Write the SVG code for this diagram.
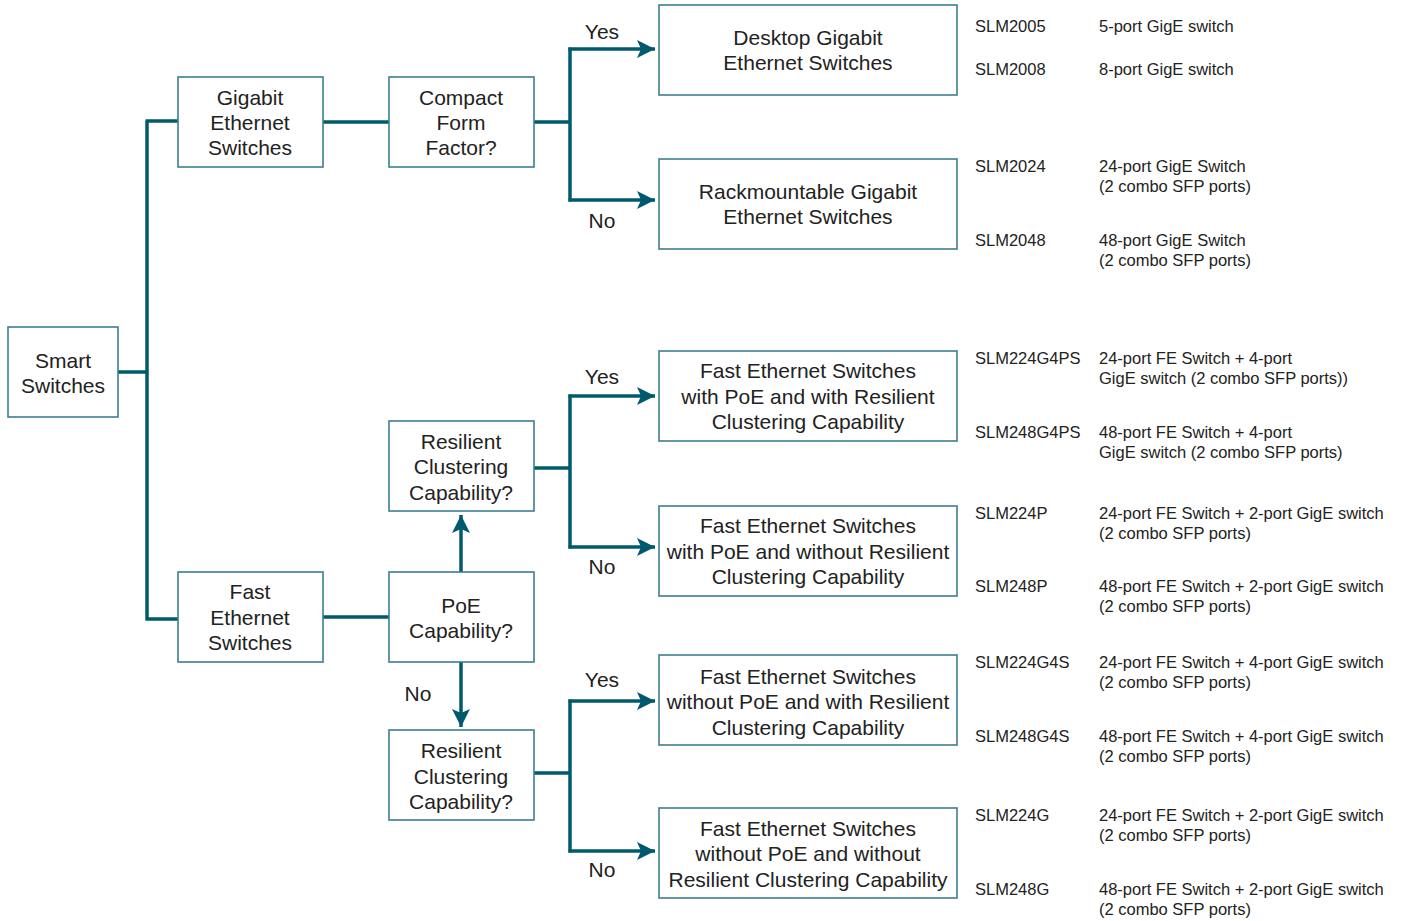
<svg xmlns="http://www.w3.org/2000/svg" width="1404" height="921" viewBox="0 0 1404 921">
<defs>
<style>
.box{fill:#fff;stroke:#3b7f8f;stroke-width:1.6}
.t{font-family:"Liberation Sans",Arial,sans-serif;font-size:21px;fill:#222;text-anchor:middle}
.s{font-family:"Liberation Sans",Arial,sans-serif;font-size:16.5px;fill:#222}
.c{fill:none;stroke:#005a6e;stroke-width:3.5}
.a{fill:none;stroke:#005a6e;stroke-width:3.5;marker-end:url(#ah)}
</style>
<marker id="ah" markerUnits="userSpaceOnUse" markerWidth="20" markerHeight="18" refX="18" refY="9" orient="auto">
<path d="M0,0 L18,9 L0,18 L4,9 Z" fill="#005a6e"/>
</marker>
</defs>
<rect width="1404" height="921" fill="#fff"/>
<g id="connectors">
<path class="c" d="M118,372 H147 M147,121 V620 M145.5,121 H178 M145.5,619 H178"/>
<path class="c" d="M323,122 H389 M534,122 H570 M570,47.5 V201.5"/>
<path class="a" d="M568.5,49 H655"/>
<path class="a" d="M568.5,200 H655"/>
<path class="c" d="M323,617 H389"/>
<path class="a" d="M461,572 V515"/>
<path class="a" d="M461,662 V727"/>
<path class="c" d="M534,468 H570 M570,394.5 V548.5"/>
<path class="a" d="M568.5,396 H655"/>
<path class="a" d="M568.5,547 H655"/>
<path class="c" d="M534,773 H570 M570,699.5 V852.5"/>
<path class="a" d="M568.5,701 H655"/>
<path class="a" d="M568.5,851 H655"/>
<g class="t">
<text x="602" y="39">Yes</text>
<text x="602" y="228">No</text>
<text x="602" y="384">Yes</text>
<text x="602" y="574">No</text>
<text x="602" y="687">Yes</text>
<text x="602" y="877">No</text>
<text x="418" y="701">No</text>
</g>
</g>
<g id="smart"><rect class="box" x="8" y="327" width="110" height="90"/><text class="t" x="63" y="368">Smart</text><text class="t" x="63" y="393">Switches</text></g>
<g id="gige"><rect class="box" x="178" y="77" width="145" height="90"/><text class="t" x="250" y="105">Gigabit</text><text class="t" x="250" y="130">Ethernet</text><text class="t" x="250" y="155">Switches</text></g>
<g id="compact"><rect class="box" x="389" y="77" width="145" height="90"/><text class="t" x="461" y="105">Compact</text><text class="t" x="461" y="130">Form</text><text class="t" x="461" y="155">Factor?</text></g>
<g id="desktop"><rect class="box" x="659" y="5" width="298" height="90"/><text class="t" x="808" y="45">Desktop Gigabit</text><text class="t" x="808" y="70">Ethernet Switches</text></g>
<g id="rack"><rect class="box" x="659" y="159" width="298" height="90"/><text class="t" x="808" y="199">Rackmountable Gigabit</text><text class="t" x="808" y="224">Ethernet Switches</text></g>
<g id="fe"><rect class="box" x="178" y="572" width="145" height="90"/><text class="t" x="250" y="599">Fast</text><text class="t" x="250" y="625">Ethernet</text><text class="t" x="250" y="650">Switches</text></g>
<g id="poe"><rect class="box" x="389" y="572" width="145" height="90"/><text class="t" x="461" y="613">PoE</text><text class="t" x="461" y="638">Capability?</text></g>
<g id="res1"><rect class="box" x="389" y="421" width="145" height="90"/><text class="t" x="461" y="449">Resilient</text><text class="t" x="461" y="474">Clustering</text><text class="t" x="461" y="500">Capability?</text></g>
<g id="res2"><rect class="box" x="389" y="730" width="145" height="90"/><text class="t" x="461" y="758">Resilient</text><text class="t" x="461" y="784">Clustering</text><text class="t" x="461" y="809">Capability?</text></g>
<g id="fe1"><rect class="box" x="659" y="351" width="298" height="90"/><text class="t" x="808" y="378">Fast Ethernet Switches</text><text class="t" x="808" y="404">with PoE and with Resilient</text><text class="t" x="808" y="429">Clustering Capability</text></g>
<g id="fe2"><rect class="box" x="659" y="506" width="298" height="90"/><text class="t" x="808" y="533">Fast Ethernet Switches</text><text class="t" x="808" y="559">with PoE and without Resilient</text><text class="t" x="808" y="584">Clustering Capability</text></g>
<g id="fe3"><rect class="box" x="659" y="655" width="298" height="90"/><text class="t" x="808" y="684">Fast Ethernet Switches</text><text class="t" x="808" y="709">without PoE and with Resilient</text><text class="t" x="808" y="735">Clustering Capability</text></g>
<g id="fe4"><rect class="box" x="659" y="808" width="298" height="90"/><text class="t" x="808" y="836">Fast Ethernet Switches</text><text class="t" x="808" y="861">without PoE and without</text><text class="t" x="808" y="887">Resilient Clustering Capability</text></g>
<g id="models" class="s">
<text x="975" y="32">SLM2005</text><text x="1099" y="32">5-port GigE switch</text>
<text x="975" y="75">SLM2008</text><text x="1099" y="75">8-port GigE switch</text>
<text x="975" y="172">SLM2024</text><text x="1099" y="172">24-port GigE Switch</text><text x="1099" y="192">(2 combo SFP ports)</text>
<text x="975" y="246">SLM2048</text><text x="1099" y="246">48-port GigE Switch</text><text x="1099" y="266">(2 combo SFP ports)</text>
<text x="975" y="364">SLM224G4PS</text><text x="1099" y="364">24-port FE Switch + 4-port</text><text x="1099" y="384">GigE switch (2 combo SFP ports))</text>
<text x="975" y="438">SLM248G4PS</text><text x="1099" y="438">48-port FE Switch + 4-port</text><text x="1099" y="458">GigE switch (2 combo SFP ports)</text>
<text x="975" y="519">SLM224P</text><text x="1099" y="519">24-port FE Switch + 2-port GigE switch</text><text x="1099" y="539">(2 combo SFP ports)</text>
<text x="975" y="592">SLM248P</text><text x="1099" y="592">48-port FE Switch + 2-port GigE switch</text><text x="1099" y="612">(2 combo SFP ports)</text>
<text x="975" y="668">SLM224G4S</text><text x="1099" y="668">24-port FE Switch + 4-port GigE switch</text><text x="1099" y="688">(2 combo SFP ports)</text>
<text x="975" y="742">SLM248G4S</text><text x="1099" y="742">48-port FE Switch + 4-port GigE switch</text><text x="1099" y="762">(2 combo SFP ports)</text>
<text x="975" y="821">SLM224G</text><text x="1099" y="821">24-port FE Switch + 2-port GigE switch</text><text x="1099" y="841">(2 combo SFP ports)</text>
<text x="975" y="895">SLM248G</text><text x="1099" y="895">48-port FE Switch + 2-port GigE switch</text><text x="1099" y="915">(2 combo SFP ports)</text>
</g>
</svg>
